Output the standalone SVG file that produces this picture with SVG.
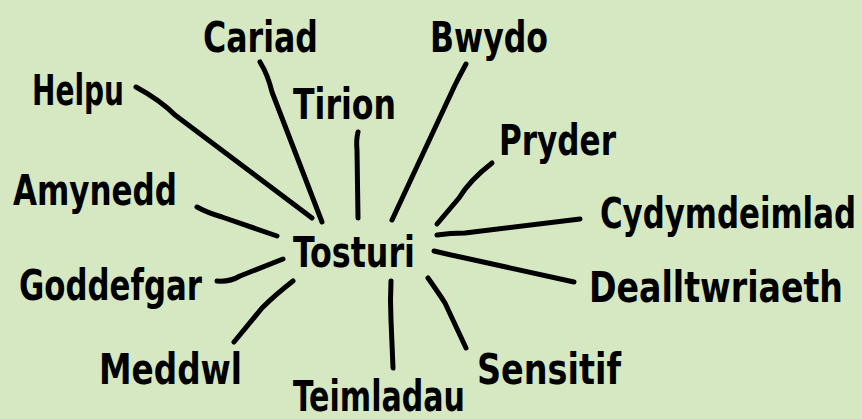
<svg xmlns="http://www.w3.org/2000/svg" width="862" height="419" viewBox="0 0 862 419">
<style>
.t{font-family:"Liberation Sans Narrow","DejaVu Sans Condensed","Liberation Sans",sans-serif;font-weight:bold;font-size:43px;fill:#000}
.c{fill:none;stroke:#000;stroke-width:5;stroke-linecap:round;stroke-linejoin:round}
</style>
<rect width="862" height="419" fill="#d5e8c1"/>
<g id="connectors">
<path class="c" d="M136,87 Q160,100 175,115 L312,218"/>
<path class="c" d="M260,62 Q268,75 272,92 L322,222"/>
<path class="c" d="M358,132 Q356,140 357,150 L358,218"/>
<path class="c" d="M466,64 Q460,75 455,85 L392,220"/>
<path class="c" d="M492,163 Q470,180 459,198 L437,224"/>
<path class="c" d="M437,235 Q450,233 465,233 L580,219"/>
<path class="c" d="M434,251 Q450,255 465,258 L574,282"/>
<path class="c" d="M428,278 Q440,295 445,303 L466,348"/>
<path class="c" d="M391,281 Q390,300 391,320 L393,368"/>
<path class="c" d="M293,281 Q275,295 262,308 L234,342"/>
<path class="c" d="M217,281 Q230,282 240,276 L283,259"/>
<path class="c" d="M197,207 Q208,213 222,217 L277,236"/>
</g>
<g id="n-tosturi"><text class="t" x="293" y="267" textLength="122" lengthAdjust="spacingAndGlyphs">Tosturi</text></g>
<g id="n-cariad"><text class="t" x="203" y="52" textLength="115" lengthAdjust="spacingAndGlyphs">Cariad</text></g>
<g id="n-helpu"><text class="t" x="32" y="105" textLength="92" lengthAdjust="spacingAndGlyphs">Helpu</text></g>
<g id="n-tirion"><text class="t" x="293" y="119" textLength="103" lengthAdjust="spacingAndGlyphs">Tirion</text></g>
<g id="n-amynedd"><text class="t" x="13" y="205" textLength="164" lengthAdjust="spacingAndGlyphs">Amynedd</text></g>
<g id="n-bwydo"><text class="t" x="430" y="52" textLength="118" lengthAdjust="spacingAndGlyphs">Bwydo</text></g>
<g id="n-pryder"><text class="t" x="499" y="155" textLength="117" lengthAdjust="spacingAndGlyphs">Pryder</text></g>
<g id="n-cydymdeimlad"><text class="t" x="600" y="228" textLength="256" lengthAdjust="spacingAndGlyphs">Cydymdeimlad</text></g>
<g id="n-dealltwriaeth"><text class="t" x="589" y="302" textLength="254" lengthAdjust="spacingAndGlyphs">Dealltwriaeth</text></g>
<g id="n-sensitif"><text class="t" x="477" y="384" textLength="144" lengthAdjust="spacingAndGlyphs">Sensitif</text></g>
<g id="n-teimladau"><text class="t" x="293" y="411" textLength="172" lengthAdjust="spacingAndGlyphs">Teimladau</text></g>
<g id="n-meddwl"><text class="t" x="99" y="384" textLength="143" lengthAdjust="spacingAndGlyphs">Meddwl</text></g>
<g id="n-goddefgar"><text class="t" x="19" y="300" textLength="183" lengthAdjust="spacingAndGlyphs">Goddefgar</text></g>
</svg>
